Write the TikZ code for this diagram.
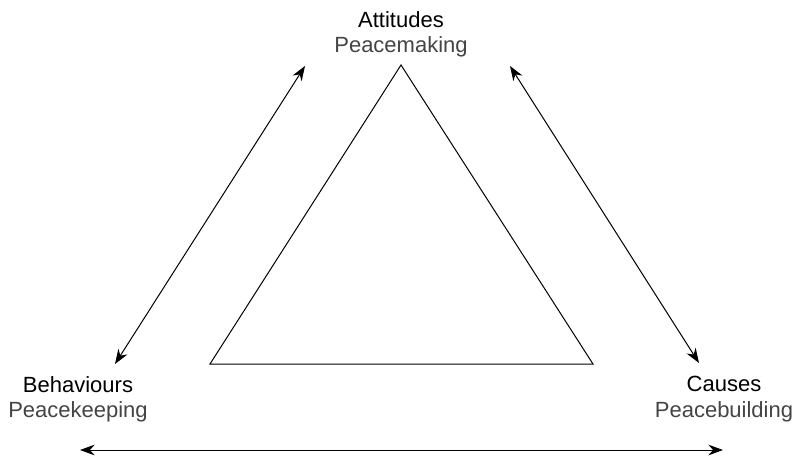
\documentclass[tikz,border=0pt]{standalone}
\usepackage{fontspec}
\setmainfont{Liberation Sans}
\usetikzlibrary{arrows.meta}

\definecolor{subgray}{HTML}{444444}

\begin{document}
\begin{tikzpicture}[
    x=0.75pt, y=-0.75pt,
    corner/.style={align=center, inner sep=0pt, font=\fontsize{16.5}{19}\selectfont},
    arr/.style={{Stealth[length=11pt,width=8pt]}-{Stealth[length=11pt,width=8pt]}, line width=0.75pt}
]
\useasboundingbox (0,0) rectangle (793,455);

% labels at the three corners
\node[corner] (att) at (401,34) {Attitudes\\\color{subgray}Peacemaking};
\node[corner] (beh) at (78,399) {Behaviours\\\color{subgray}Peacekeeping};
\node[corner] (cau) at (724,399) {Causes\\\color{subgray}Peacebuilding};

% triangle
\coordinate (top) at (401,65);
\coordinate (bl) at (210,364);
\coordinate (br) at (593,364);
\draw[line width=0.75pt] (top) -- (bl) -- (br) -- cycle;

% arrow ends
\coordinate (l1) at (305,66);
\coordinate (l2) at (115,364);
\coordinate (r1) at (510,66);
\coordinate (r2) at (699,363);
\coordinate (b1) at (80,450);
\coordinate (b2) at (723,450);

\draw[arr] (l1) -- (l2);
\draw[arr] (r1) -- (r2);
\draw[arr] (b1) -- (b2);
\end{tikzpicture}
\end{document}
